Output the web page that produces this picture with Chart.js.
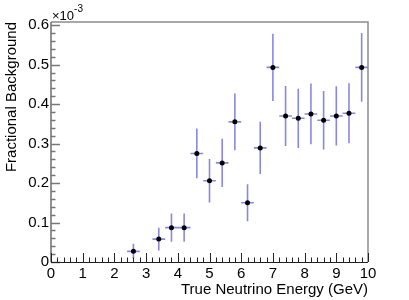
<!DOCTYPE html>
<html>
<head>
<meta charset="utf-8">
<script src="https://cdn.jsdelivr.net/npm/chart.js@4"></script>
<style>
  html, body { margin: 0; padding: 0; background: #fff; }
  #wrap { width: 409px; height: 300px; }
</style>
</head>
<body>
<div id="wrap"><canvas id="chart" width="409" height="300"></canvas></div>
<script>
// bin centres (GeV), values in units of 1e-3, vertical errors
const energy = [2.6, 3.4, 3.8, 4.2, 4.6, 5.0, 5.4, 5.8, 6.2, 6.6, 7.0, 7.4, 7.8, 8.2, 8.6, 9.0, 9.4, 9.8];
const background = [0.027, 0.058, 0.087, 0.087, 0.275, 0.206, 0.251, 0.355, 0.150, 0.289, 0.493, 0.370, 0.364, 0.375, 0.359, 0.370, 0.377, 0.493];
const errY = [0.019, 0.029, 0.036, 0.036, 0.063, 0.055, 0.061, 0.072, 0.047, 0.066, 0.085, 0.076, 0.075, 0.077, 0.074, 0.075, 0.076, 0.087];
const binHalfWidth = 0.2;

const xTicks = [0, 1, 2, 3, 4, 5, 6, 7, 8, 9, 10];
const yTicks = [0, 0.1, 0.2, 0.3, 0.4, 0.5, 0.6];

const FONT = "'Liberation Sans', Arial, Helvetica, sans-serif";
const barColor = "rgba(85, 85, 215, 0.7)";

const points = energy.map((e, i) => ({ x: e, y: background[i] }));

// error bars, drawn under the markers
const errorBars = {
    id: "errorBars",
    beforeDatasetsDraw(chart) {
        const { ctx, scales: { x, y } } = chart;
        ctx.save();
        ctx.strokeStyle = barColor;
        ctx.lineWidth = 1.6;
        energy.forEach((e, i) => {
            const px = x.getPixelForValue(e);
            const py = y.getPixelForValue(background[i]);
            ctx.beginPath();
            ctx.moveTo(px, y.getPixelForValue(background[i] - errY[i]));
            ctx.lineTo(px, y.getPixelForValue(background[i] + errY[i]));
            ctx.moveTo(x.getPixelForValue(e - binHalfWidth), py);
            ctx.lineTo(x.getPixelForValue(e + binHalfWidth), py);
            ctx.stroke();
        });
        ctx.restore();
    }
};

// ROOT style frame with inward ticks + exponent label
const frame = {
    id: "frame",
    afterDraw(chart) {
        const { ctx, chartArea: a, scales: { x, y } } = chart;
        ctx.save();
        // top + right frame
        ctx.strokeStyle = "#8c8c8c";
        ctx.lineWidth = 1.5;
        ctx.beginPath();
        ctx.moveTo(a.left, a.top);
        ctx.lineTo(a.right, a.top);
        ctx.lineTo(a.right, a.bottom);
        ctx.stroke();

        // left axis
        ctx.strokeStyle = "#777";
        ctx.lineWidth = 1.6;
        ctx.beginPath();
        ctx.moveTo(a.left, a.bottom);
        ctx.lineTo(a.left, a.top);
        for (let v = 0; v <= 0.6001; v += 0.02) {
            const major = Math.abs(v * 10 - Math.round(v * 10)) < 1e-6;
            const py = Math.round(y.getPixelForValue(v)) + 0.5;
            ctx.moveTo(a.left, py);
            ctx.lineTo(a.left + (major ? 9 : 4.5), py);
        }
        ctx.stroke();

        // bottom axis
        ctx.strokeStyle = "#222";
        ctx.lineWidth = 1;
        ctx.beginPath();
        ctx.moveTo(a.left, a.bottom + 0.5);
        ctx.lineTo(a.right, a.bottom + 0.5);
        for (let v = 0; v <= 10.001; v += 0.2) {
            const major = Math.abs(v - Math.round(v)) < 1e-6;
            const px = Math.round(x.getPixelForValue(v)) + 0.5;
            ctx.moveTo(px, a.bottom);
            ctx.lineTo(px, a.bottom - (major ? 9 : 4.5));
        }
        ctx.stroke();

        // x10^-3
        ctx.fillStyle = "#000";
        ctx.textBaseline = "alphabetic";
        ctx.textAlign = "left";
        ctx.font = "13px " + FONT;
        ctx.fillText("\u00d710", a.left + 1, 20);
        const w = ctx.measureText("\u00d710").width;
        ctx.font = "10px " + FONT;
        ctx.fillText("-3", a.left + 1 + w, 12);
        ctx.restore();
    }
};

new Chart(document.getElementById("chart"), {
    type: "scatter",
    data: {
        datasets: [{
            data: points,
            pointRadius: 2.5,
            pointHoverRadius: 2.5,
            pointBackgroundColor: "#000",
            pointBorderColor: "#000",
            pointBorderWidth: 0,
            showLine: false
        }]
    },
    options: {
        responsive: false,
        animation: false,
        events: [],
        layout: { padding: { top: 22, right: 41, left: 0, bottom: 0 } },
        plugins: { legend: { display: false }, tooltip: { enabled: false } },
        scales: {
            x: {
                type: "linear",
                min: 0,
                max: 10,
                afterFit(scale) { scale.height = 38; },
                afterBuildTicks(scale) { scale.ticks = xTicks.map(v => ({ value: v })); },
                grid: { display: false, drawTicks: false },
                border: { display: false },
                ticks: {
                    padding: 3,
                    maxRotation: 0,
                    autoSkip: false,
                    color: "#000",
                    font: { family: FONT, size: 15 },
                    callback: v => String(v)
                },
                title: {
                    display: true,
                    text: "True Neutrino Energy (GeV)",
                    align: "end",
                    color: "#000",
                    font: { family: FONT, size: 15 },
                    padding: { top: 0, bottom: 1 }
                }
            },
            y: {
                min: 0,
                max: 0.608,
                afterFit(scale) { scale.width = 51; },
                afterBuildTicks(scale) { scale.ticks = yTicks.map(v => ({ value: v })); },
                grid: { display: false, drawTicks: false },
                border: { display: false },
                ticks: {
                    padding: 2,
                    autoSkip: false,
                    color: "#000",
                    font: { family: FONT, size: 15 },
                    callback: v => (v === 0 ? "0" : v.toFixed(1))
                },
                title: {
                    display: true,
                    text: "Fractional Background",
                    align: "end",
                    color: "#000",
                    font: { family: FONT, size: 15 },
                    padding: { top: 3, bottom: 0 }
                }
            }
        }
    },
    plugins: [errorBars, frame]
});
</script>
</body>
</html>
